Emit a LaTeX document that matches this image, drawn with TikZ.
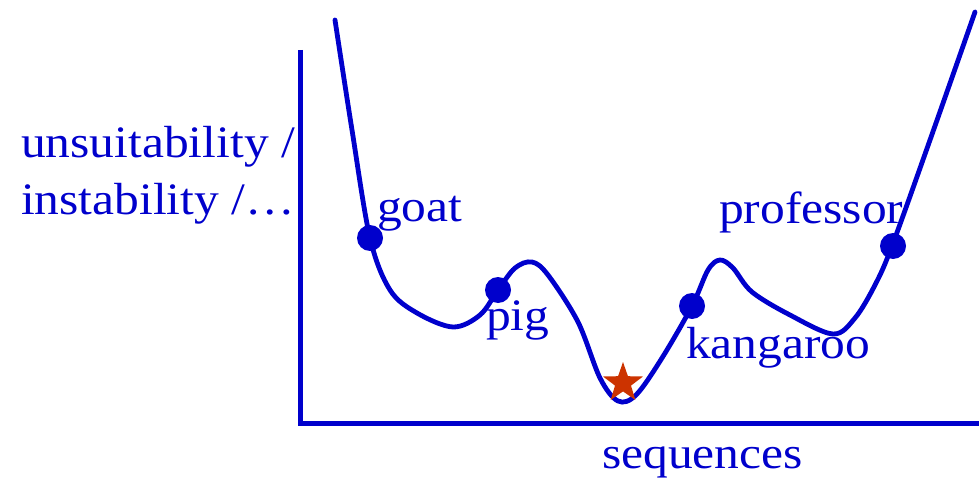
\documentclass[tikz,border=0pt]{standalone}
\usepackage{fontspec}
\setmainfont[FakeStretch=1.1]{Liberation Serif}
\usepackage{tikz}
\usetikzlibrary{positioning,shapes.geometric}
\definecolor{ink}{HTML}{0000CC}
\definecolor{best}{HTML}{CC3300}

\begin{document}
\begin{tikzpicture}[x=1pt,y=-1pt,every node/.style={font=\fontsize{45}{54}\selectfont,text=ink}]
    \tikzstyle{dot}=[circle,fill=ink,minimum size=26pt,inner sep=0pt];
    \tikzstyle{lbl}=[anchor=base west,inner sep=0pt];
    \useasboundingbox (0,0) rectangle (979,481);

    % axes
    \coordinate (top)    at (300,50);
    \coordinate (origin) at (300,423);
    \coordinate (right)  at (979,423);
    \draw[ink,line width=5pt] (top) -- (origin) -- (right);

    % landscape
    \draw[ink,line width=4.8pt,line cap=round] plot[smooth,tension=0.55] coordinates {
      (335,20) (352,130) (370,238) (390,290) (417,313) (453,327) (480,315)
      (498,290) (515,268) (532,262) (548,275) (578,322) (600,378) (618,401)
      (636,395) (662,358) (692,306) (708,270) (720,260) (733,268) (752,292)
      (790,315) (833,334) (855,318) (875,285) (892,246) (930,140) (975,12)};

    % sequences on the curve
    \node[dot] (goat) at (370,238) {};
    \node[dot] (pig)  at (498,290) {};
    \node[dot] (kang) at (692,306) {};
    \node[dot] (prof) at (893,246) {};
    \node[star,star points=5,star point ratio=2.5,fill=best,minimum size=42pt,inner sep=0pt]
      (opt) at (623,383) {};

    % labels
    \node[lbl] (goatlbl) at (377,222) {goat};
    \node[lbl] (piglbl)  at (486,330) {pig};
    \node[lbl] (kanglbl) at (686,358) {kangaroo};
    \node[lbl] (proflbl) at (719,223) {professor};
    \node[lbl] (ylbl1)   at (21,158)  {unsuitability /};
    \node[lbl] (ylbl2)   at (21,214)  {instability /\ldots};
    \node[lbl] (xlbl)    at (602,468) {sequences};
  \end{tikzpicture}
\end{document}
